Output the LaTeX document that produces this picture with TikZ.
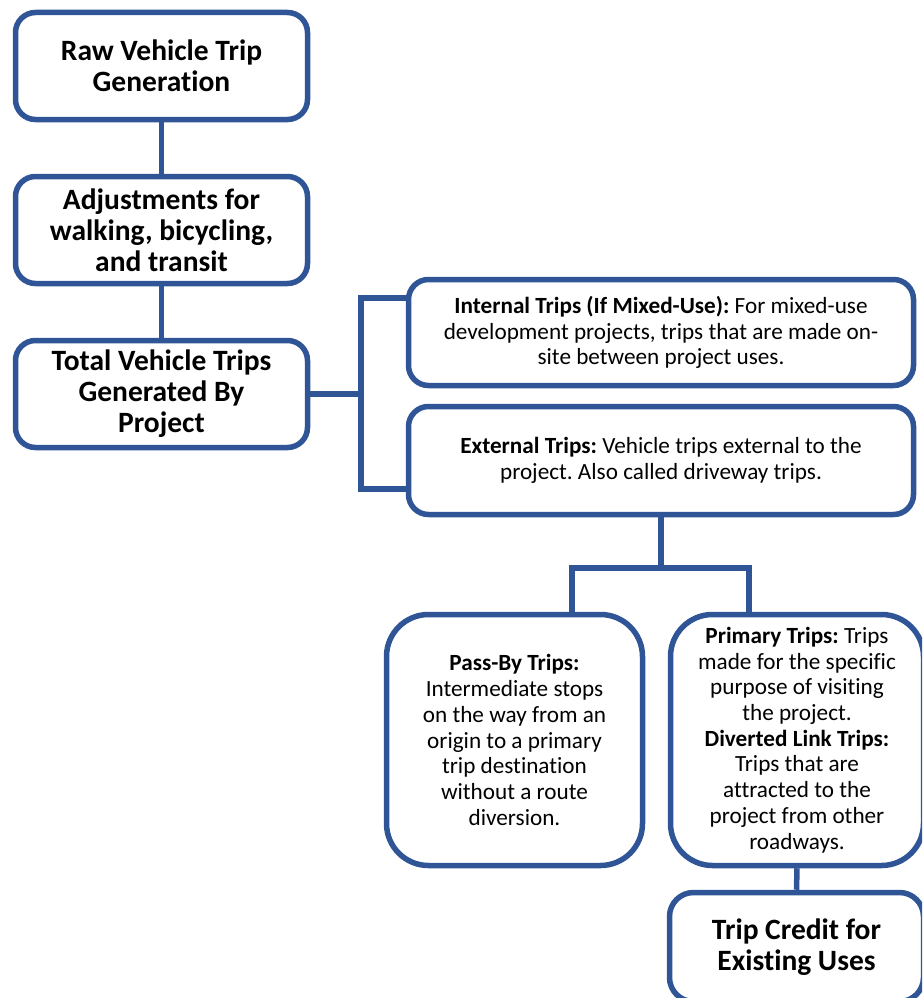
\documentclass[tikz,border=0pt]{standalone}
\usepackage{fontspec}
\setmainfont{Carlito}[Ligatures=NoCommon]
\usepackage{xcolor}
\usepackage{tikz}
\definecolor{frame}{HTML}{2F5597}
\definecolor{ink}{HTML}{000000}
\tikzset{
  box/.style={draw=frame, fill=white, line width=5.5pt, rounded corners=20pt, align=center, inner sep=0pt, text=ink},
  sized/.style 2 args={minimum width=#1, minimum height=#2},
  head/.style={box, font=\fontsize{29.5}{31}\selectfont\bfseries},
  note/.style={box, font=\fontsize{23.2}{25.7}\selectfont},
  link/.style={draw=frame, line width=5.5pt}
}
\frenchspacing

\begin{document}
\begin{tikzpicture}[x=1pt,y=-1pt]
  \useasboundingbox (0,0) rectangle (922,998);
  \clip (0,0) rectangle (922,998);
  % left column
  \node[head,sized={292pt}{107pt}] (raw) at (161.5,66) {Raw Vehicle Trip\\Generation};
  \node[head,sized={292pt}{107pt}] (adj) at (161.5,230) {Adjustments for\\walking, bicycling,\\and transit};
  \node[head,sized={292pt}{107pt}] (tot) at (161.5,394) {Total Vehicle Trips\\Generated By\\Project};
  % internal / external split
  \node[note,sized={505pt}{106pt}] (int) at (661,332.5) {\textbf{Internal Trips (If Mixed-Use):} For mixed-use\\development projects, trips that are made on-\\site between project uses.};
  \node[note,sized={505pt}{108pt}] (ext) at (661,460.5) {\textbf{External Trips:} Vehicle trips external to the\\project. Also called driveway trips.};
  % external trip types
  \node[note,sized={256pt}{251pt},rounded corners=42pt] (pass) at (514.5,740) {\textbf{Pass-By Trips:}\\Intermediate stops\\on the way from an\\origin to a primary\\trip destination\\without a route\\diversion.};
  \node[note,sized={253pt}{251pt},rounded corners=42pt] (prim) at (797,740) {\textbf{Primary Trips:} Trips\\made for the specific\\purpose of visiting\\the project.\\\textbf{Diverted Link Trips:}\\Trips that are\\attracted to the\\project from other\\roadways.};
  \node[head,sized={254pt}{109pt},rounded corners=24pt] (credit) at (796.5,947) {Trip Credit for\\Existing Uses};
  % connectors
  \draw[link] (raw.south) -- (adj.north);
  \draw[link] (adj.south) -- (tot.north);
  \draw[link] (tot.east) -- ++(50.5,0) coordinate (fork);
  \draw[link] ([yshift=34.5pt]int.west) -| (fork) |- ([yshift=-28.5pt]ext.west);
  \draw[link] (ext.south) -- ++(0,50.5) coordinate (split);
  \draw[link] ([xshift=57.5pt]pass.north) |- (split) -| ([xshift=-48pt]prim.north);
  \draw[link] (prim.south) -- (credit.north);
\end{tikzpicture}
\end{document}
